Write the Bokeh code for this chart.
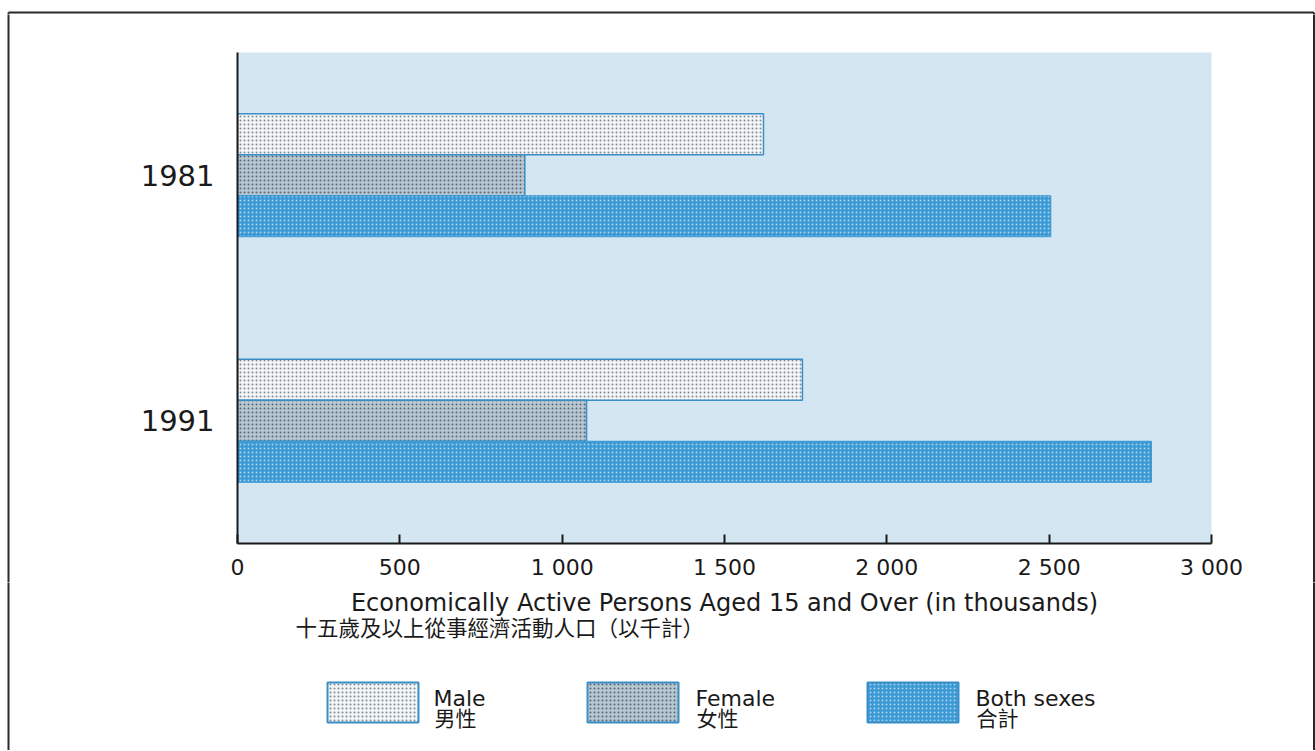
from bokeh.plotting import figure
from bokeh.layouts import column, row
from bokeh.models import Range1d, FactorRange, FixedTicker, ColumnDataSource
from bokeh.transform import dodge
from bokeh.core.properties import value
from bokeh.embed import file_html
from bokeh.resources import INLINE

# ---- data ----
years = ["1981", "1991"]
male = [1620, 1740]
female = [885, 1075]
both = [2505, 2815]
x_ticks = [0, 500, 1000, 1500, 2000, 2500, 3000]
x_tick_labels = ["0", "500", "1 000", "1 500", "2 000", "2 500", "3 000"]
x_title = "Economically Active Persons Aged 15 and Over (in thousands)"
x_title_zh = "十五歲及以上從事經濟活動人口（以千計）"
series_en = ["Male", "Female", "Both sexes"]
series_zh = ["男性", "女性", "合計"]

FONT = "DejaVu Sans"
CJK = "Noto Sans CJK TC"
BG = "#d4e6f1"
EDGE = "#3a8ec6"
INK = "#1a1a1a"
FRAME = "#2a2a2a"

W = 1315
TOP_H = 14           # page y 0..14
MAIN_Y0, MAIN_H = 14, 568   # page y 14..582
BOT_Y0, BOT_H = 582, 168    # page y 582..750
SIDE_W = 10
FL, FR, FT, FB = 237, 1211, 52, 543   # chart frame edges in page pixels
BX_L, BX_T, BX_R = 8, 12, 1313.5      # outer border

styles = [
    dict(fill_color="#f3f5f6", hatch_pattern="dot", hatch_color="#7f8c96", hatch_scale=4, hatch_weight=1.3, line_color=EDGE, line_width=1.5),
    dict(fill_color="#b9c7d1", hatch_pattern="dot", hatch_color="#52667a", hatch_scale=4, hatch_weight=1.6, line_color=EDGE, line_width=1.5),
    dict(fill_color="#3b99d4", hatch_pattern="dot", hatch_color="#ffffff", hatch_alpha=0.55, hatch_scale=4, hatch_weight=1.3, line_color="#3b99d4", line_width=1),
]


def no_align(f):
    if "frame_align" in type(f).properties():
        f.frame_align = False
    return f


def canvas_fig(w, h, x0, y0):
    """A figure whose frame is its whole canvas, with page-pixel data coordinates."""
    f = figure(width=w, height=h, output_backend="svg", toolbar_location=None,
               x_range=Range1d(x0, x0 + w), y_range=Range1d(y0 + h, y0),
               x_axis_type=None, y_axis_type=None,
               min_border=0, min_border_left=0, min_border_right=0,
               min_border_top=0, min_border_bottom=0)
    f.grid.visible = False
    f.outline_line_color = None
    f.background_fill_color = "white"
    f.border_fill_color = "white"
    return no_align(f)


# ---- top strip: top border line ----
top = canvas_fig(W, TOP_H, 0, 0)
top.segment(x0=[BX_L, BX_L, BX_R], y0=[BX_T, BX_T, BX_T], x1=[BX_R, BX_L, BX_R], y1=[BX_T, TOP_H + 1, TOP_H + 1],
            line_color=FRAME, line_width=2)

# ---- side strips ----
left = canvas_fig(SIDE_W, MAIN_H, 0, MAIN_Y0)
left.segment(x0=[BX_L], y0=[MAIN_Y0 - 1], x1=[BX_L], y1=[MAIN_Y0 + MAIN_H + 1], line_color=FRAME, line_width=2)
right = canvas_fig(SIDE_W, MAIN_H, W - SIDE_W, MAIN_Y0)
right.segment(x0=[BX_R], y0=[MAIN_Y0 - 1], x1=[BX_R], y1=[MAIN_Y0 + MAIN_H + 1], line_color=FRAME, line_width=2)

# ---- main chart ----
src = ColumnDataSource(dict(year=years, male=male, female=female, both=both))
main_w = W - 2 * SIDE_W
p = figure(width=main_w, height=MAIN_H, output_backend="svg", toolbar_location=None,
           x_range=Range1d(0, 3000),
           y_range=FactorRange(factors=["1991", "1981"], range_padding=0),
           min_border_left=FL - SIDE_W, min_border_right=(W - SIDE_W) - FR,
           min_border_top=FT - MAIN_Y0, min_border_bottom=(MAIN_Y0 + MAIN_H) - FB)
no_align(p)
p.background_fill_color = BG
p.border_fill_color = "white"
p.outline_line_color = None
p.grid.visible = False

bh = 0.167
for col, off, st in zip(["male", "female", "both"], [bh, 0.0, -bh], styles):
    p.hbar(y=dodge("year", off, range=p.y_range), left=0, right=col, height=bh, source=src, **st)

p.xaxis.ticker = FixedTicker(ticks=x_ticks)
p.xaxis.major_label_overrides = {t: l for t, l in zip(x_ticks, x_tick_labels)}
p.xaxis.axis_line_width = 2
p.xaxis.axis_line_color = INK
p.xaxis.major_tick_in = 9
p.xaxis.major_tick_out = 0
p.xaxis.major_tick_line_width = 2
p.xaxis.major_tick_line_color = INK
p.xaxis.minor_tick_line_color = None
p.xaxis.major_label_text_font = FONT
p.xaxis.major_label_text_font_size = "22px"
p.xaxis.major_label_text_color = INK
p.xaxis.major_label_standoff = 11

p.yaxis.axis_line_width = 2
p.yaxis.axis_line_color = INK
p.yaxis.major_tick_line_color = None
p.yaxis.minor_tick_line_color = None
p.yaxis.major_label_text_font = FONT
p.yaxis.major_label_text_font_size = "29px"
p.yaxis.major_label_text_color = INK
p.yaxis.major_label_standoff = 17

# ---- bottom part: axis titles, legend, border sides ----
bot = canvas_fig(W, BOT_H, 0, BOT_Y0)
bot.segment(x0=[BX_L, BX_R], y0=[BOT_Y0 - 1, BOT_Y0 - 1], x1=[BX_L, BX_R], y1=[BOT_Y0 + BOT_H + 2, BOT_Y0 + BOT_H + 2],
            line_color=FRAME, line_width=2)
bot.text(x=[(FL + FR) / 2], y=[602], text=[x_title], text_align="center", text_baseline="alphabetic",
         text_font=value(FONT), text_font_size=value("24px"), text_color=INK)
bot.text(x=[295], y=[626], text=[x_title_zh], text_align="left", text_baseline="middle",
         text_font=value(CJK), text_font_size=value("21.5px"), text_color=INK)

box_x = [327, 587, 867]
txt_x = [433, 695, 975]
box_w, box_t, box_b = 91, 682, 722
for bx, tx, st, en, zh in zip(box_x, txt_x, styles, series_en, series_zh):
    st2 = dict(st)
    st2["line_color"] = EDGE
    st2["line_width"] = 2
    bot.quad(left=[bx], right=[bx + box_w], top=[box_t], bottom=[box_b], **st2)
    bot.text(x=[tx], y=[698], text=[en], text_align="left", text_baseline="alphabetic",
             text_font=value(FONT), text_font_size=value("22px"), text_color=INK)
    bot.text(x=[tx + 1], y=[716], text=[zh], text_align="left", text_baseline="middle",
             text_font=value(CJK), text_font_size=value("21px"), text_color=INK)

layout = column(top, row(left, p, right), bot)
open("out.html", "w").write(file_html(layout, INLINE))
